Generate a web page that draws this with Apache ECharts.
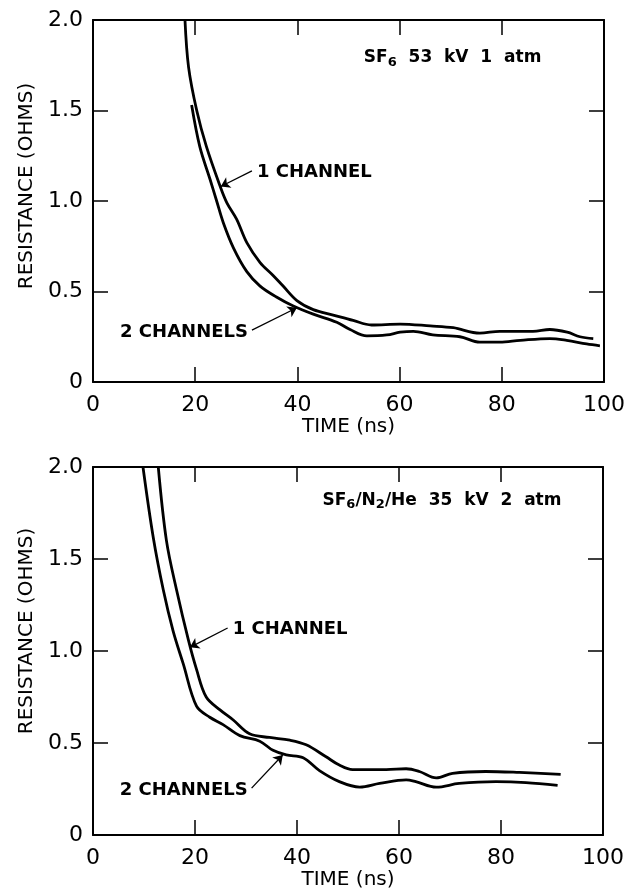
<!DOCTYPE html>
<html>
<head>
    <meta charset="UTF-8">
    <title>Resistance vs time</title>
    <script src="https://cdn.jsdelivr.net/npm/echarts@6/dist/echarts.min.js"></script>
    <style>
        html, body { margin: 0; padding: 0; background: #fff; }
        #chart { width: 640px; height: 893px; }
    </style>
</head>
<body>
    <div id="chart"></div>
    <script>
        // time (ns), resistance (ohms)
        const topOneChannel = [[18.0,2.0],[18.7,1.74],[20.3,1.50],[22.2,1.30],[24.9,1.08],[26.2,0.99],[28.1,0.90],[30.1,0.77],[32.7,0.66],[35.2,0.59],[37.2,0.53],[39.9,0.45],[43.1,0.40],[47.0,0.37],[50.9,0.34],[54.5,0.315],[60.1,0.32],[66.0,0.31],[70.5,0.30],[75.7,0.27],[79.6,0.28],[86.1,0.28],[89.4,0.29],[92.8,0.275],[95.3,0.25],[97.9,0.24]];
        const topTwoChannels = [[19.3,1.53],[20.9,1.30],[22.9,1.12],[24.2,1.00],[25.5,0.88],[27.5,0.74],[30.1,0.61],[32.7,0.53],[35.9,0.47],[39.2,0.42],[43.1,0.375],[47.7,0.33],[50.3,0.29],[53.6,0.255],[57.5,0.26],[60.1,0.275],[62.7,0.28],[66.5,0.26],[71.8,0.25],[75.7,0.22],[79.6,0.22],[83.6,0.23],[89.4,0.24],[92.7,0.23],[96.6,0.21],[99.2,0.20]];
        const bottomOneChannel = [[12.8,2.0],[14.4,1.60],[16.4,1.33],[18.7,1.06],[20.3,0.90],[22.2,0.75],[24.9,0.68],[27.5,0.625],[30.7,0.55],[34.6,0.53],[38.6,0.515],[41.8,0.49],[45.7,0.425],[48.3,0.38],[50.9,0.355],[57.5,0.355],[61.4,0.36],[64.0,0.345],[67.3,0.31],[70.5,0.335],[77.0,0.345],[83.6,0.34],[91.7,0.33]];
        const bottomTwoChannels = [[9.8,2.0],[11.8,1.62],[13.8,1.33],[15.7,1.11],[17.7,0.93],[20.3,0.70],[22.9,0.64],[25.5,0.60],[28.8,0.54],[32.7,0.51],[35.3,0.46],[37.9,0.435],[41.2,0.42],[44.4,0.35],[48.3,0.29],[52.3,0.26],[56.2,0.28],[61.4,0.30],[63.3,0.29],[67.3,0.26],[71.8,0.28],[79.0,0.29],[84.9,0.285],[91.1,0.27]];

        const timeTicks = { min: 0, max: 100, interval: 20 };
        const resTicks = { min: 0, max: 2, interval: 0.5 };

        const panelTitles = [
            '{n|SF}{s|6}{n|  53  kV  1  atm}',
            '{n|SF}{s|6}{n|/N}{s|2}{n|/He  35  kV  2  atm}'
        ];
        const titleAnchors = [[53.0, 1.79], [45.0, 1.82]];

        // callouts: text, tail of arrow (next to text), tip of arrow (on curve)
        const callouts = [
            { grid: 0, text: '1 CHANNEL', tail: [31.1, 1.166], tip: [25.0, 1.08], side: 'right' },
            { grid: 0, text: '2 CHANNELS', tail: [31.1, 0.287], tip: [39.9, 0.41], side: 'left' },
            { grid: 1, text: '1 CHANNEL', tail: [26.4, 1.125], tip: [19.0, 1.02], side: 'right' },
            { grid: 1, text: '2 CHANNELS', tail: [31.1, 0.255], tip: [37.2, 0.435], side: 'left' }
        ];

        const FONT = 'DejaVu Sans';
        const black = '#000';

        const grids = [
            { left: 93, top: 20, width: 511, height: 362 },
            { left: 93, top: 467, width: 510, height: 368 }
        ];
        const yNamePad = [30, 40];

        function xAxes(g) {
            const base = {
                gridIndex: g, type: 'value', ...timeTicks,
                axisLine: { onZero: false, lineStyle: { color: black, width: 2 } },
                axisTick: { inside: true, length: 15, lineStyle: { color: black, width: 1.5 } },
                splitLine: { show: false }
            };
            return [
                { ...base, position: 'bottom',
                  axisLabel: { color: black, fontSize: 22, fontFamily: FONT, margin: 12 },
                  name: 'TIME (ns)', nameLocation: 'middle', nameGap: 34,
                  nameTextStyle: { color: black, fontSize: 20, fontFamily: FONT } },
                { ...base, position: 'top', axisLabel: { show: false } }
            ];
        }
        function yAxes(g) {
            const base = {
                gridIndex: g, type: 'value', ...resTicks,
                axisLine: { show: true, onZero: false, lineStyle: { color: black, width: 2 } },
                axisTick: { show: true, inside: true, length: 15, lineStyle: { color: black, width: 1.5 } },
                splitLine: { show: false }
            };
            return [
                { ...base, position: 'left',
                  axisLabel: { color: black, fontSize: 22, fontFamily: FONT, margin: 10,
                               formatter: v => v === 0 ? '0' : v.toFixed(1) },
                  name: 'RESISTANCE (OHMS)', nameLocation: 'middle', nameGap: 55,
                  nameTextStyle: { color: black, fontSize: 20, fontFamily: FONT, padding: [0, 0, 0, yNamePad[g]] } },
                { ...base, position: 'right', axisLabel: { show: false } }
            ];
        }

        function arrowLines(g) {
            return {
                silent: true, symbol: ['none', 'arrow'], symbolSize: 9,
                label: { show: false }, emphasis: { disabled: true },
                lineStyle: { color: black, width: 1.3, type: 'solid' },
                data: callouts.filter(c => c.grid === g).map(c => [{ coord: c.tail }, { coord: c.tip }])
            };
        }

        function curve(data, g, withArrows) {
            const s = {
                type: 'line', data: data, xAxisIndex: 2 * g, yAxisIndex: 2 * g,
                showSymbol: false, smooth: 0.35, clip: true,
                lineStyle: { color: black, width: 2.8 }
            };
            if (withArrows) s.markLine = arrowLines(g);
            return s;
        }

        const chart = echarts.init(document.getElementById('chart'));
        chart.setOption({
            animation: false,
            backgroundColor: '#fff',
            grid: grids,
            xAxis: [...xAxes(0), ...xAxes(1)],
            yAxis: [...yAxes(0), ...yAxes(1)],
            series: [
                curve(topOneChannel, 0, true),
                curve(topTwoChannels, 0, false),
                curve(bottomOneChannel, 1, true),
                curve(bottomTwoChannels, 1, false)
            ]
        });

        // texts placed from data coordinates
        const textStyle = { fontFamily: FONT, fontWeight: 'bold', fill: black };
        const graphics = [];
        panelTitles.forEach((t, g) => {
            const p = chart.convertToPixel({ seriesIndex: 2 * g }, titleAnchors[g]);
            graphics.push({
                type: 'text', x: p[0], y: p[1],
                style: {
                    text: t, verticalAlign: 'middle', align: 'left',
                    rich: {
                        n: { ...textStyle, fontSize: 17 },
                        s: { ...textStyle, fontSize: 13, padding: [10, 0, 0, 0] }
                    }
                }
            });
        });
        callouts.forEach(c => {
            const p = chart.convertToPixel({ seriesIndex: 2 * c.grid }, c.tail);
            const right = c.side === 'right';
            graphics.push({
                type: 'text', x: p[0] + (right ? 5 : -4), y: p[1] + (right ? 1 : 2),
                style: { ...textStyle, text: c.text, fontSize: 18,
                         align: right ? 'left' : 'right', verticalAlign: 'middle' }
            });
        });
        chart.setOption({ graphic: graphics });
    </script>
</body>
</html>
